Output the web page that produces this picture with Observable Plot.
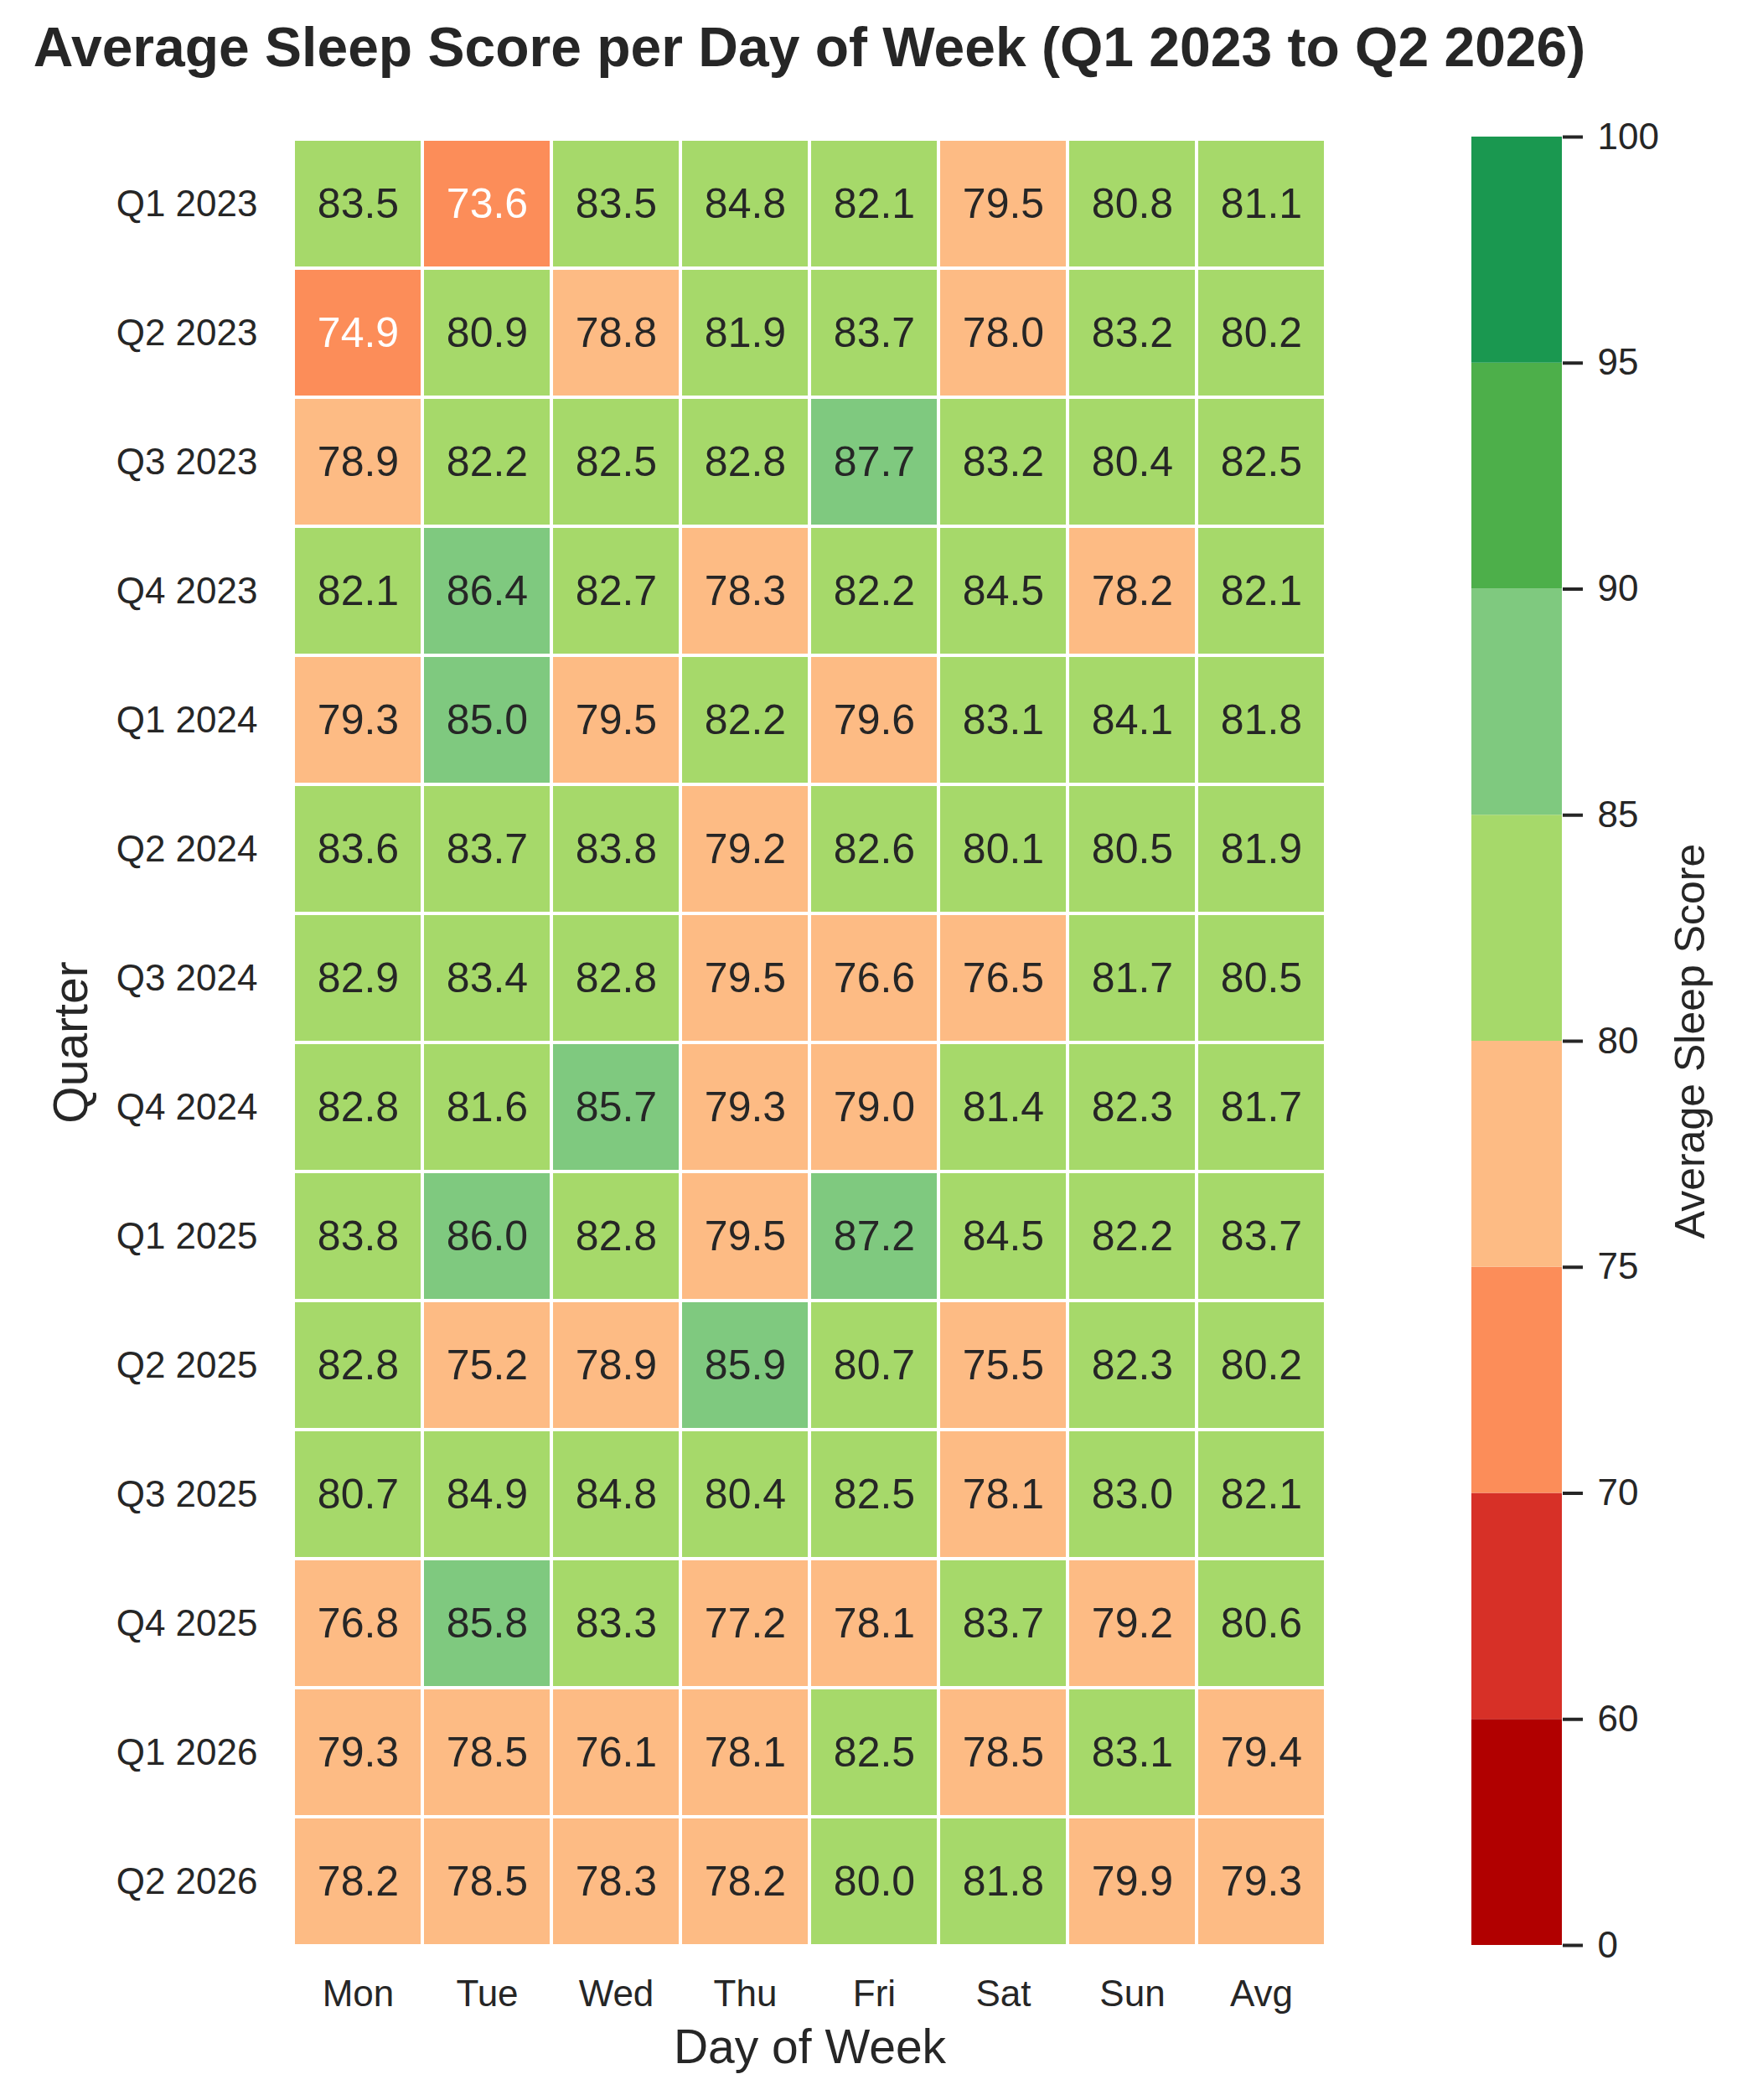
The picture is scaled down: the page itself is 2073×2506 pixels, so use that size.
<!DOCTYPE html>
<html>
<head>
<meta charset="utf-8">
<script src="https://cdn.jsdelivr.net/npm/d3@7"></script>
<script src="https://cdn.jsdelivr.net/npm/@observablehq/plot@0.6"></script>
<style>
  html, body { margin: 0; padding: 0; background: #ffffff; }
  #page { position: relative; width: 2073px; height: 2506px; background: #ffffff; overflow: hidden;
          font-family: "Liberation Sans", Arial, Helvetica, sans-serif; color: #262626; }
  #title { position: absolute; left: 0; top: 23px; width: 1932px; text-align: center;
           font-size: 66px; font-weight: bold; line-height: 1; white-space: nowrap; }
  #heat { position: absolute; left: 0; top: 110px; }
  #cbar { position: absolute; left: 1700px; top: 110px; }
  svg { max-width: none !important; }
</style>
</head>
<body>
<div id="page">
  <div id="title">Average Sleep Score per Day of Week (Q1 2023 to Q2 2026)</div>
  <div id="heat"></div>
  <div id="cbar"></div>
</div>
<script>
// Columns (days plus the row average) and rows (quarters)
const days = ["Mon", "Tue", "Wed", "Thu", "Fri", "Sat", "Sun", "Avg"];
const quarters = [
  "Q1 2023", "Q2 2023", "Q3 2023", "Q4 2023",
  "Q1 2024", "Q2 2024", "Q3 2024", "Q4 2024",
  "Q1 2025", "Q2 2025", "Q3 2025", "Q4 2025",
  "Q1 2026", "Q2 2026"
];

// Average sleep score, one row per quarter, in the order of `days`
const scoresQ1_2023 = [83.5, 73.6, 83.5, 84.8, 82.1, 79.5, 80.8, 81.1];
const scoresQ2_2023 = [74.9, 80.9, 78.8, 81.9, 83.7, 78.0, 83.2, 80.2];
const scoresQ3_2023 = [78.9, 82.2, 82.5, 82.8, 87.7, 83.2, 80.4, 82.5];
const scoresQ4_2023 = [82.1, 86.4, 82.7, 78.3, 82.2, 84.5, 78.2, 82.1];
const scoresQ1_2024 = [79.3, 85.0, 79.5, 82.2, 79.6, 83.1, 84.1, 81.8];
const scoresQ2_2024 = [83.6, 83.7, 83.8, 79.2, 82.6, 80.1, 80.5, 81.9];
const scoresQ3_2024 = [82.9, 83.4, 82.8, 79.5, 76.6, 76.5, 81.7, 80.5];
const scoresQ4_2024 = [82.8, 81.6, 85.7, 79.3, 79.0, 81.4, 82.3, 81.7];
const scoresQ1_2025 = [83.8, 86.0, 82.8, 79.5, 87.2, 84.5, 82.2, 83.7];
const scoresQ2_2025 = [82.8, 75.2, 78.9, 85.9, 80.7, 75.5, 82.3, 80.2];
const scoresQ3_2025 = [80.7, 84.9, 84.8, 80.4, 82.5, 78.1, 83.0, 82.1];
const scoresQ4_2025 = [76.8, 85.8, 83.3, 77.2, 78.1, 83.7, 79.2, 80.6];
const scoresQ1_2026 = [79.3, 78.5, 76.1, 78.1, 82.5, 78.5, 83.1, 79.4];
const scoresQ2_2026 = [78.2, 78.5, 78.3, 78.2, 80.0, 81.8, 79.9, 79.3];

const scoreRows = [
  scoresQ1_2023, scoresQ2_2023, scoresQ3_2023, scoresQ4_2023,
  scoresQ1_2024, scoresQ2_2024, scoresQ3_2024, scoresQ4_2024,
  scoresQ1_2025, scoresQ2_2025, scoresQ3_2025, scoresQ4_2025,
  scoresQ1_2026, scoresQ2_2026
];

// Colour bins: boundaries of the stepped colour bar and one colour per bin
const bounds = [0, 60, 70, 75, 80, 85, 90, 95, 100];
const binColors = ["#b10000", "#d73027", "#fc8d59", "#fdbb84", "#a6d96a", "#7fc97f", "#4daf4a", "#1a9850"];

const FONT = '"Liberation Sans", Arial, Helvetica, sans-serif';
const INK = "#262626";

// Threshold scale shared by the heatmap and the colour bar
const colorOptions = { type: "threshold", domain: bounds.slice(1, -1), range: binColors };
const binOf = d3.scaleThreshold().domain(bounds.slice(1, -1)).range(binColors);

// Light text on dark cells, dark text on light cells
function luminance(c) {
  const { r, g, b } = d3.rgb(c);
  const lin = v => { v /= 255; return v <= 0.03928 ? v / 12.92 : Math.pow((v + 0.055) / 1.055, 2.4); };
  return 0.2126 * lin(r) + 0.7152 * lin(g) + 0.0722 * lin(b);
}

const cells = quarters.flatMap((q, i) =>
  days.map((d, j) => ({ quarter: q, day: d, value: scoreRows[i][j] }))
);

const heat = Plot.plot({
  width: 1700,
  height: 2396,
  marginLeft: 349,
  marginRight: 117,
  marginTop: 54,
  marginBottom: 183,
  style: { fontFamily: FONT, color: INK, background: "#ffffff", overflow: "visible" },
  x: { domain: days, padding: 0, label: null },
  y: { domain: quarters, padding: 0, label: null },
  color: colorOptions,
  marks: [
    Plot.cell(cells, { x: "day", y: "quarter", fill: "value", inset: 2 }),
    Plot.text(cells, {
      x: "day", y: "quarter",
      text: d => d.value.toFixed(1),
      fill: d => (luminance(binOf(d.value)) > 0.408 ? INK : "#ffffff"),
      fontSize: 50
    }),
    Plot.axisX({ tickSize: 0, tickPadding: 39, fontSize: 44, label: null }),
    Plot.axisY({ tickSize: 0, tickPadding: 42, fontSize: 44, label: null }),
    Plot.text(["Quarter"], {
      frameAnchor: "left", dx: -264, rotate: -90,
      textAnchor: "middle", lineAnchor: "middle", fontSize: 57, fill: INK
    }),
    Plot.text(["Day of Week"], {
      frameAnchor: "bottom", dy: 120,
      textAnchor: "middle", lineAnchor: "middle", fontSize: 57, fill: INK
    })
  ]
});
document.getElementById("heat").appendChild(heat);

// Stepped colour bar: equal-height blocks, one per bin
const bins = binColors.map((c, i) => ({ lo: i, hi: i + 1, start: bounds[i] }));

const cbar = Plot.plot({
  width: 373,
  height: 2396,
  marginLeft: 56,
  marginRight: 209,
  marginTop: 53,
  marginBottom: 185,
  style: { fontFamily: FONT, color: INK, background: "#ffffff", overflow: "visible" },
  y: { domain: [0, bounds.length - 1], label: null },
  color: colorOptions,
  marks: [
    Plot.rect(bins, { y1: "lo", y2: "hi", fill: "start" }),
    Plot.axisY({
      anchor: "right",
      ticks: d3.range(bounds.length),
      tickFormat: i => String(bounds[i]),
      tickSize: 24,
      tickPadding: 18,
      strokeWidth: 4,
      fontSize: 44,
      label: null
    }),
    Plot.text(["Average Sleep Score"], {
      frameAnchor: "right", dx: 153, rotate: -90,
      textAnchor: "middle", lineAnchor: "middle", fontSize: 50, fill: INK
    })
  ]
});
document.getElementById("cbar").appendChild(cbar);
</script>
</body>
</html>
